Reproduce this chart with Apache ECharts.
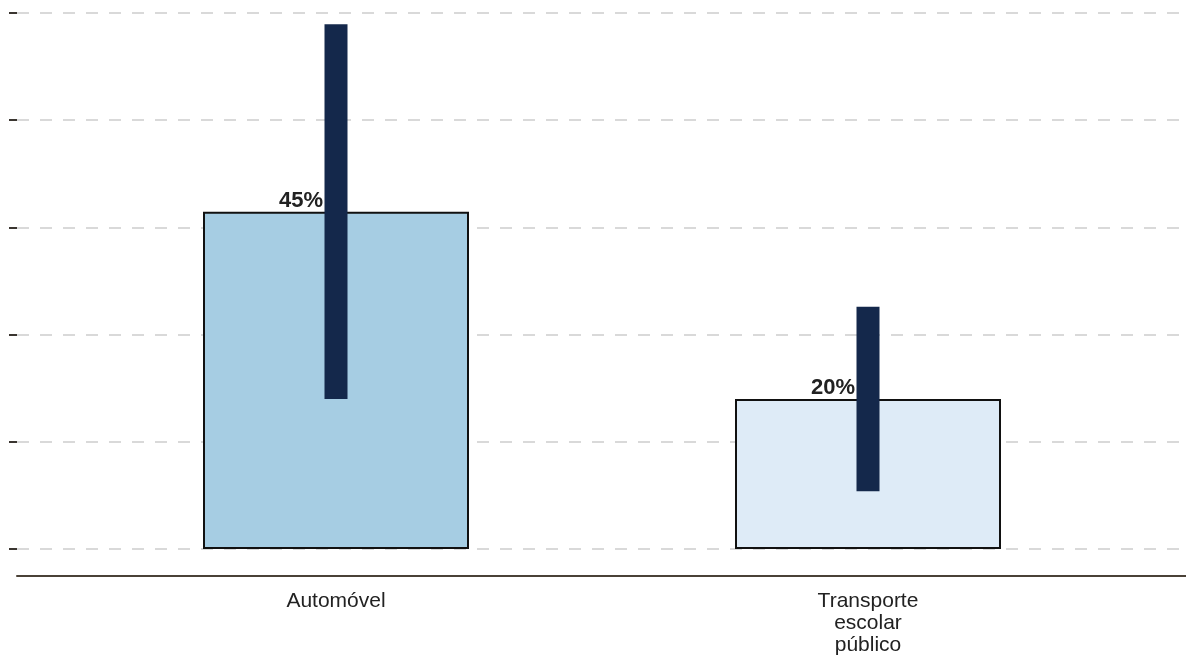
<!DOCTYPE html>
<html>
<head>
<meta charset="utf-8">
<script src="https://cdn.jsdelivr.net/npm/echarts@6/dist/echarts.min.js"></script>
<style>html,body{margin:0;padding:0;background:#fff}#c{width:1186px;height:657px}</style>
</head>
<body>
<div id="c"></div>
<script>
const categories = ['Automóvel', 'Transporte\nescolar\npúblico'];
const values = [45, 20];
const errLow = [20, 7.7];
const errHigh = [70, 32.3];
const barColors = ['#a6cde3', '#deebf7'];
const yMax = 71.5;
const yInterval = 14.3;

const chart = echarts.init(document.getElementById('c'));
chart.setOption({
  animation: false,
  grid: [
    {left: 17, right: 0, top: 13, bottom: 108},
    {left: 70, right: 52, top: 13, bottom: 108}
  ],
  xAxis: [
    {gridIndex: 0, type: 'category', data: ['', ''], offset: 27,
     axisLine: {show: true, onZero: false, lineStyle: {color: '#4a4137', width: 2}},
     axisTick: {show: false}, axisLabel: {show: false}, splitLine: {show: false}},
    {gridIndex: 1, type: 'category', data: categories, offset: 27,
     axisLine: {show: false, onZero: false}, axisTick: {show: false},
     axisLabel: {margin: 14, fontSize: 21, color: '#222', lineHeight: 22, fontFamily: 'Liberation Sans, Arial, sans-serif'}}
  ],
  yAxis: [
    {gridIndex: 0, type: 'value', min: 0, max: yMax, interval: yInterval,
     axisLine: {show: false},
     axisTick: {show: true, length: 8, lineStyle: {color: '#3a3530', width: 2}},
     axisLabel: {show: false},
     splitLine: {show: true, lineStyle: {color: '#d9d9d9', width: 2, type: [12, 11]}}},
    {gridIndex: 1, type: 'value', min: 0, max: yMax, interval: yInterval, show: false,
     splitLine: {show: false}}
  ],
  series: [
    {
      type: 'bar', xAxisIndex: 1, yAxisIndex: 1, barWidth: 266,
      data: values.map((v, i) => ({value: v, itemStyle: {color: barColors[i]}})),
      itemStyle: {borderColor: '#111', borderWidth: 2},
      label: {show: true, position: 'top', distance: 0, offset: [-35, 0],
        formatter: p => p.value + '%', fontSize: 22, fontWeight: 'bold', color: '#222',
        fontFamily: 'Liberation Sans, Arial, sans-serif'}
    },
    {
      type: 'custom', xAxisIndex: 1, yAxisIndex: 1, z: 5,
      data: errLow.map((l, i) => [i, l, errHigh[i]]),
      renderItem: function (params, api) {
        const lo = api.coord([api.value(0), api.value(1)]);
        const hi = api.coord([api.value(0), api.value(2)]);
        const w = 23;
        return {type: 'rect', shape: {x: lo[0] - w / 2, y: hi[1], width: w, height: lo[1] - hi[1]},
          style: {fill: '#14284b'}};
      }
    }
  ]
});
</script>
</body>
</html>
